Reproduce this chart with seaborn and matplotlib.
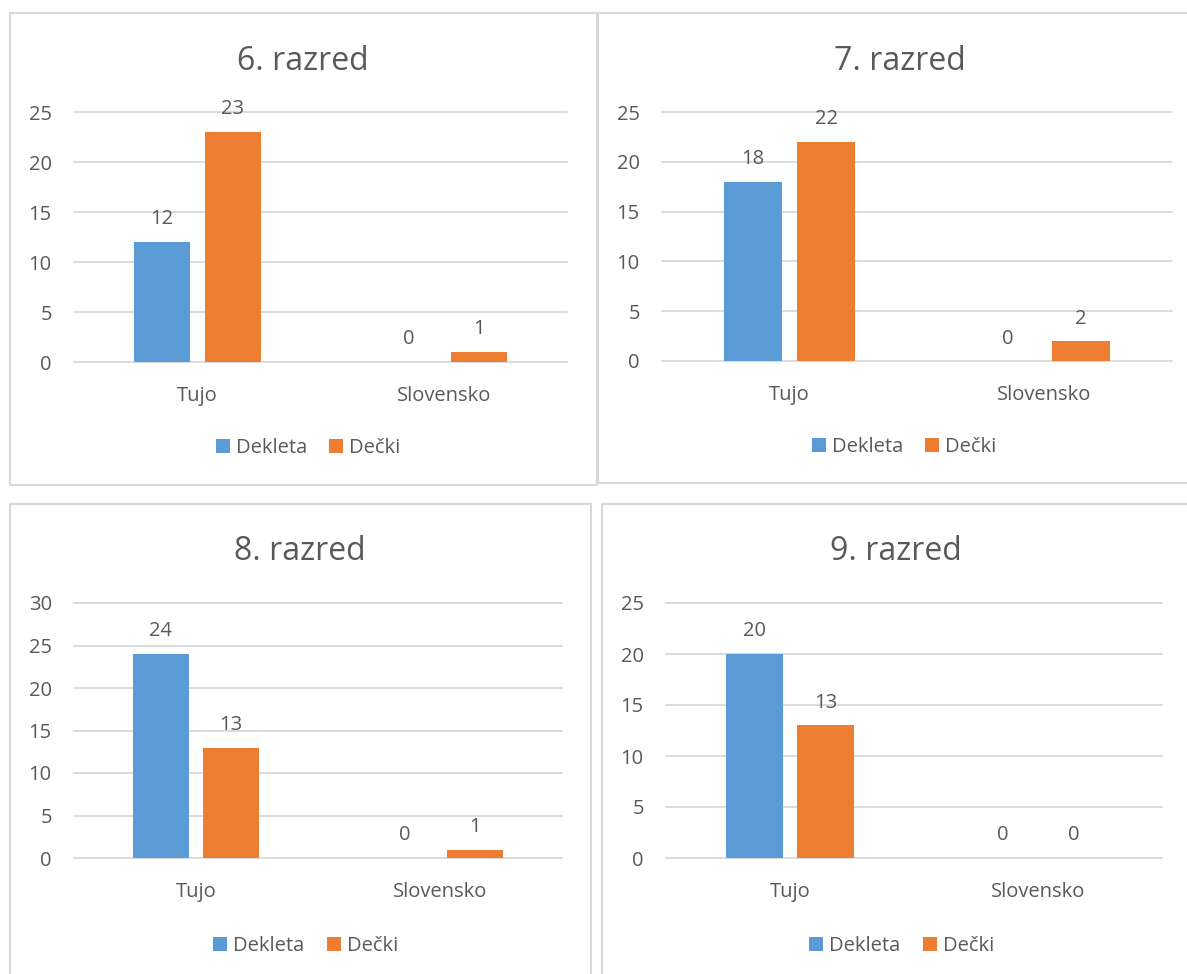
import pandas as pd
import numpy as np
import seaborn as sns
import matplotlib.pyplot as plt
from matplotlib.patches import Rectangle

# podatki
razredi = ["6. razred", "7. razred", "8. razred", "9. razred"]
kategorije = ["Tujo", "Slovensko"]
dekleta = [[12, 0], [18, 0], [24, 0], [20, 0]]
decki = [[23, 1], [22, 2], [13, 1], [13, 0]]
y_max = [25, 25, 30, 25]

modra = "#5B9BD5"
oranzna = "#ED7D31"
siva_txt = "#595959"
siva_crta = "#D9D9D9"

W, H = 1187, 974

# postavitev (v pikslih): osi, okvir, naslov
osi_px = [(74, 112, 567, 362), (662, 112, 1172, 361),
          (74, 603, 562, 858), (666, 603, 1162, 858)]
okvir_px = [(10, 13, 597, 485), (598, 13, 1192, 483),
            (10, 504, 591, 980), (602, 504, 1192, 980)]
naslov_px = [(303, 70), (900, 70), (300, 560), (896, 560)]

sns.set_theme(style="white")
plt.rcParams["font.family"] = ["Open Sans", "DejaVu Sans"]

fig = plt.figure(figsize=(W / 100, H / 100), dpi=100)
fig.patch.set_facecolor("white")

for i in range(4):
    x0, y0, x1, y1 = osi_px[i]
    ax = fig.add_axes([x0 / W, 1 - y1 / H, (x1 - x0) / W, (y1 - y0) / H])

    df = pd.DataFrame({
        "kategorija": kategorije * 2,
        "vrednost": dekleta[i] + decki[i],
        "spol": ["Dekleta"] * 2 + ["Dečki"] * 2,
    })
    sns.barplot(data=df, x="kategorija", y="vrednost", hue="spol",
                palette=[modra, oranzna], saturation=1, linewidth=0,
                width=0.576, gap=0.21, ax=ax, zorder=2)

    ax.set_ylim(0, y_max[i])
    ticks = np.arange(0, y_max[i] + 1, 5)
    ax.set_yticks(ticks)
    for t in ticks:
        ax.axhline(t, color=siva_crta, lw=1.3, zorder=0, clip_on=False)
    for s in ax.spines.values():
        s.set_visible(False)
    ax.set_xlabel("")
    ax.set_ylabel("")
    ax.tick_params(axis="y", length=0, pad=16, labelsize=14.5, labelcolor=siva_txt)
    ax.tick_params(axis="x", length=0, pad=17, labelsize=14.5, labelcolor=siva_txt)

    for c in ax.containers:
        ax.bar_label(c, padding=9, fontsize=14.5, color=siva_txt)

    sns.move_legend(ax, "center", bbox_to_anchor=(0.475, -0.345), ncol=2,
                    frameon=False, title=None, fontsize=14.5,
                    handlelength=0.7, handleheight=0.7,
                    handletextpad=0.3, columnspacing=1.1)
    for t in ax.get_legend().get_texts():
        t.set_color(siva_txt)

    tx, ty = naslov_px[i]
    fig.text(tx / W, 1 - ty / H, razredi[i], ha="center", va="baseline",
             fontsize=23, color=siva_txt)

    bx0, by0, bx1, by1 = okvir_px[i]
    fig.add_artist(Rectangle((bx0 / W, 1 - by1 / H), (bx1 - bx0) / W, (by1 - by0) / H,
                             transform=fig.transFigure, fill=False,
                             edgecolor=siva_crta, lw=1.5))

fig.savefig("out.png", dpi=100, facecolor="white")
